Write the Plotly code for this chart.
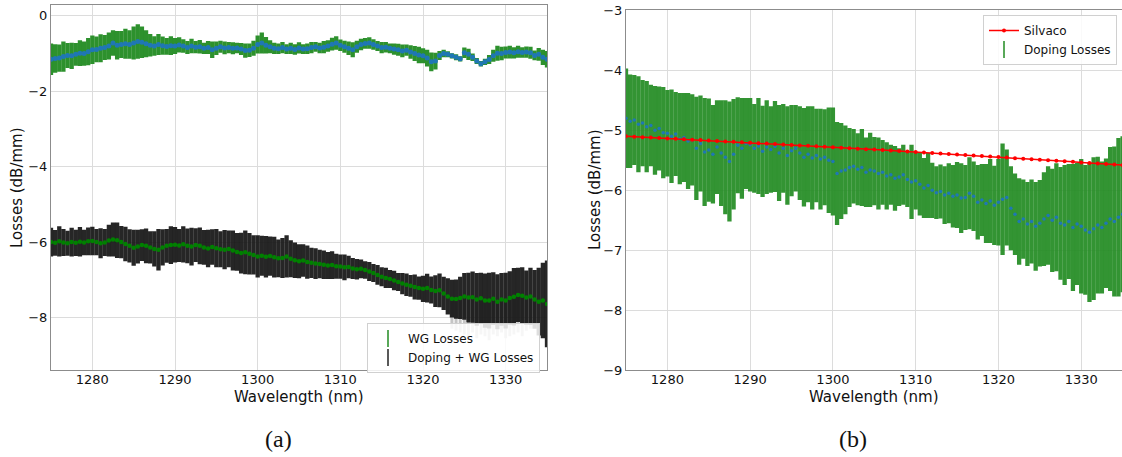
import numpy as np
import plotly.graph_objects as go

# ---------------- data ----------------
WL_START, WL_END = 1275.0, 1335.0   # wavelength span of the sampled points (nm)

# (a) WG Losses: centre values and symmetric error (dB/mm), every 0.5 nm
wg_loss = [
    -1.15, -1.13, -1.12, -1.08, -1.05, -1.06, -1.02, -0.99, -1.00, -0.95,
    -0.90, -0.89, -0.86, -0.84, -0.80, -0.72, -0.78, -0.76, -0.74, -0.76,
    -0.72, -0.68, -0.70, -0.74, -0.78, -0.80, -0.76, -0.79, -0.81, -0.79,
    -0.80, -0.77, -0.80, -0.84, -0.80, -0.83, -0.82, -0.86, -0.84, -0.90,
    -0.86, -0.82, -0.85, -0.84, -0.86, -0.85, -0.88, -0.92, -0.91, -0.86,
    -0.76, -0.72, -0.78, -0.82, -0.86, -0.87, -0.84, -0.88, -0.86, -0.89,
    -0.85, -0.88, -0.87, -0.84, -0.82, -0.85, -0.83, -0.80, -0.75, -0.72,
    -0.78, -0.82, -0.86, -0.90, -0.82, -0.76, -0.73, -0.72, -0.76, -0.80,
    -0.84, -0.83, -0.86, -0.88, -0.90, -0.93, -0.91, -0.96, -1.00, -1.04,
    -1.06, -1.12, -1.22, -1.20, -1.05, -1.00, -1.02, -1.06, -1.10, -1.14,
    -0.98, -1.02, -1.10, -1.20, -1.27, -1.22, -1.16, -1.06, -0.99, -1.00,
    -0.97, -0.96, -0.98, -0.95, -0.97, -0.96, -0.98, -1.05, -1.02, -1.10,
    -1.15,
]
wg_err = [
    0.42, 0.38, 0.36, 0.40, 0.33, 0.35, 0.30, 0.34, 0.32, 0.36,
    0.38, 0.34, 0.37, 0.33, 0.36, 0.34, 0.38, 0.36, 0.40, 0.38,
    0.44, 0.46, 0.42, 0.36, 0.30, 0.26, 0.28, 0.24, 0.22, 0.25,
    0.21, 0.20, 0.18, 0.17, 0.19, 0.16, 0.18, 0.15, 0.17, 0.22,
    0.18, 0.16, 0.17, 0.15, 0.16, 0.14, 0.16, 0.19, 0.18, 0.20,
    0.24, 0.28, 0.22, 0.17, 0.15, 0.14, 0.15, 0.13, 0.15, 0.14,
    0.15, 0.13, 0.14, 0.15, 0.13, 0.14, 0.16, 0.15, 0.17, 0.18,
    0.15, 0.16, 0.18, 0.20, 0.16, 0.15, 0.14, 0.15, 0.14, 0.13,
    0.15, 0.14, 0.13, 0.15, 0.16, 0.17, 0.15, 0.18, 0.20, 0.22,
    0.20, 0.22, 0.25, 0.22, 0.12, 0.10, 0.08, 0.07, 0.08, 0.07,
    0.14, 0.15, 0.10, 0.08, 0.07, 0.08, 0.12, 0.16, 0.20, 0.18,
    0.16, 0.17, 0.15, 0.16, 0.14, 0.15, 0.16, 0.13, 0.17, 0.20,
    0.22,
]

# (a) Doping + WG Losses
dwg_loss = [
    -6.00, -6.02, -5.98, -6.01, -6.03, -6.00, -6.02, -5.99, -6.01, -5.98,
    -5.97, -6.00, -6.03, -6.01, -5.96, -5.93, -5.95, -6.00, -6.05, -6.10,
    -6.15, -6.12, -6.08, -6.10, -6.14, -6.18, -6.20, -6.14, -6.10, -6.08,
    -6.07, -6.09, -6.06, -6.10, -6.12, -6.08, -6.10, -6.14, -6.17, -6.13,
    -6.16, -6.19, -6.20, -6.18, -6.22, -6.26, -6.29, -6.27, -6.31, -6.34,
    -6.38, -6.36, -6.39, -6.37, -6.40, -6.43, -6.42, -6.38, -6.44, -6.48,
    -6.51, -6.49, -6.53, -6.55, -6.57, -6.58, -6.60, -6.62, -6.61, -6.64,
    -6.65, -6.67, -6.66, -6.70, -6.72, -6.71, -6.74, -6.78, -6.82, -6.87,
    -6.92, -6.95, -6.98, -7.02, -7.06, -7.10, -7.13, -7.16, -7.19, -7.22,
    -7.24, -7.22, -7.27, -7.30, -7.28, -7.36, -7.44, -7.50, -7.51, -7.48,
    -7.44, -7.47, -7.46, -7.52, -7.49, -7.55, -7.55, -7.50, -7.58, -7.52,
    -7.55, -7.48, -7.45, -7.40, -7.42, -7.47, -7.44, -7.52, -7.58, -7.55,
    -7.64,
]
dwg_err = [
    0.38, 0.34, 0.40, 0.36, 0.33, 0.38, 0.35, 0.39, 0.34, 0.37,
    0.38, 0.35, 0.40, 0.36, 0.42, 0.45, 0.47, 0.43, 0.46, 0.44,
    0.48, 0.45, 0.42, 0.46, 0.43, 0.47, 0.55, 0.48, 0.45, 0.50,
    0.47, 0.44, 0.48, 0.46, 0.50, 0.45, 0.49, 0.46, 0.50, 0.47,
    0.51, 0.48, 0.52, 0.49, 0.53, 0.50, 0.54, 0.58, 0.55, 0.52,
    0.56, 0.53, 0.55, 0.52, 0.54, 0.50, 0.53, 0.56, 0.49, 0.47,
    0.45, 0.43, 0.44, 0.40, 0.41, 0.38, 0.38, 0.36, 0.37, 0.33,
    0.32, 0.34, 0.30, 0.28, 0.27, 0.25, 0.23, 0.25, 0.24, 0.26,
    0.25, 0.27, 0.24, 0.26, 0.24, 0.28, 0.30, 0.29, 0.33, 0.31,
    0.35, 0.38, 0.36, 0.42, 0.45, 0.44, 0.48, 0.50, 0.52, 0.56,
    0.62, 0.66, 0.68, 0.70, 0.68, 0.72, 0.74, 0.70, 0.73, 0.70,
    0.74, 0.71, 0.76, 0.72, 0.75, 0.72, 0.76, 0.78, 0.90, 1.00,
    1.15,
]
# light-grey tails under the Doping + WG band (1323.5 .. 1333.5 nm)
gray_wl = [1323.5, 1324.0, 1324.5, 1325.0, 1325.5, 1326.0, 1326.5, 1327.0,
           1327.5, 1328.0, 1328.5, 1329.0, 1329.5, 1330.0, 1330.5, 1331.0,
           1331.5, 1332.0, 1332.5, 1333.0, 1333.5]
gray_low = [-8.30, -8.35, -8.40, -8.45, -8.50, -8.40, -8.55, -8.45,
            -8.50, -8.60, -8.45, -8.50, -8.40, -8.55, -8.50, -8.45,
            -8.40, -8.50, -8.35, -8.30, -8.25]

# (b) Doping Losses
dop_loss = [
    -4.80, -4.85, -4.83, -4.90, -4.88, -4.94, -4.92, -5.00, -4.97, -5.04,
    -5.05, -5.10, -5.06, -5.14, -5.12, -5.18, -5.16, -5.30, -5.22, -5.36,
    -5.33, -5.40, -5.28, -5.38, -5.45, -5.52, -5.40, -5.25, -5.30, -5.22,
    -5.24, -5.30, -5.26, -5.35, -5.28, -5.32, -5.27, -5.38, -5.30, -5.42,
    -5.34, -5.30, -5.38, -5.45, -5.40, -5.46, -5.42, -5.48, -5.45, -5.50,
    -5.52, -5.72, -5.68, -5.66, -5.62, -5.60, -5.65, -5.62, -5.70, -5.66,
    -5.68, -5.72, -5.70, -5.76, -5.74, -5.80, -5.78, -5.74, -5.82, -5.86,
    -5.84, -5.90, -5.96, -5.92, -6.00, -6.04, -6.02, -6.08, -6.05, -6.10,
    -6.08, -6.13, -6.12, -6.05, -6.10, -6.20, -6.16, -6.22, -6.18, -6.25,
    -6.20, -6.15, -6.12, -6.30, -6.40, -6.52, -6.48, -6.56, -6.52, -6.60,
    -6.55, -6.48, -6.42, -6.50, -6.45, -6.55, -6.58, -6.52, -6.62, -6.56,
    -6.60, -6.66, -6.70, -6.64, -6.58, -6.62, -6.55, -6.48, -6.52, -6.45,
    -6.40,
]
dop_err = [
    0.83, 0.78, 0.75, 0.80, 0.72, 0.76, 0.68, 0.74, 0.70, 0.76,
    0.72, 0.78, 0.70, 0.76, 0.74, 0.80, 0.76, 0.86, 0.80, 0.90,
    0.86, 0.82, 0.78, 0.88, 0.95, 1.00, 0.92, 0.80, 0.84, 0.76,
    0.78, 0.74, 0.80, 0.76, 0.78, 0.72, 0.76, 0.80, 0.74, 0.82,
    0.76, 0.72, 0.78, 0.82, 0.80, 0.86, 0.78, 0.84, 0.80, 0.88,
    0.90, 0.86, 0.80, 0.74, 0.66, 0.62, 0.60, 0.64, 0.58, 0.62,
    0.57, 0.60, 0.54, 0.56, 0.50, 0.54, 0.48, 0.50, 0.46, 0.62,
    0.48, 0.52, 0.50, 0.54, 0.46, 0.44, 0.45, 0.48, 0.50, 0.52,
    0.55, 0.58, 0.54, 0.60, 0.58, 0.62, 0.60, 0.66, 0.70, 0.66,
    0.72, 0.93, 0.80, 0.70, 0.68, 0.72, 0.66, 0.70, 0.70, 0.74,
    0.72, 0.78, 0.82, 0.86, 0.90, 0.94, 1.00, 0.96, 1.06, 1.02,
    1.12, 1.08, 1.16, 1.19, 1.14, 1.10, 1.08, 1.20, 1.25, 1.32,
    1.30,
]

# (b) Silvaco simulation, every 1 nm
silvaco_wl = list(range(1275, 1336))
silvaco_loss = [
    -5.100, -5.107, -5.114, -5.121, -5.128, -5.135, -5.142, -5.149, -5.156, -5.163,
    -5.170, -5.177, -5.185, -5.192, -5.199, -5.207, -5.214, -5.222, -5.229, -5.237,
    -5.244, -5.252, -5.259, -5.267, -5.275, -5.283, -5.290, -5.298, -5.306, -5.314,
    -5.322, -5.330, -5.338, -5.346, -5.354, -5.362, -5.371, -5.379, -5.387, -5.396,
    -5.404, -5.412, -5.421, -5.429, -5.438, -5.447, -5.455, -5.464, -5.473, -5.481,
    -5.490, -5.499, -5.508, -5.517, -5.526, -5.535, -5.544, -5.554, -5.563, -5.572,
    -5.581,
]

x_ticks = [1280, 1290, 1300, 1310, 1320, 1330]

# ---------------- figure ----------------
W, H = 1122, 457
FONT = "DejaVu Sans"
GREEN_BAR = "rgba(34,139,34,0.95)"
BLUE = "#1f77b4"

def grid_wl(vals):
    return np.linspace(WL_START, WL_END, len(vals))

fig = go.Figure()

# --- panel (a) ---
wl_a = grid_wl(dwg_loss)
gray_top = np.interp(gray_wl, wl_a, dwg_loss)
fig.add_trace(go.Scatter(
    x=gray_wl, y=gray_low, mode="markers", marker=dict(size=0.1, opacity=0),
    error_y=dict(type="data", symmetric=False,
                 array=list(gray_top - np.array(gray_low)), arrayminus=[0] * len(gray_wl),
                 color="rgba(190,190,190,0.9)", thickness=3, width=0),
    showlegend=False, hoverinfo="skip", xaxis="x", yaxis="y"))

fig.add_trace(go.Scatter(
    x=grid_wl(wg_loss), y=wg_loss, mode="markers",
    marker=dict(color=BLUE, size=5),
    error_y=dict(type="data", array=wg_err, color=GREEN_BAR, thickness=4.3, width=0),
    showlegend=False, xaxis="x", yaxis="y"))

fig.add_trace(go.Scatter(
    x=wl_a, y=dwg_loss, mode="markers",
    marker=dict(color="#008000", size=4.5),
    error_y=dict(type="data", array=dwg_err, color="rgba(20,20,20,0.92)", thickness=4.3, width=0),
    showlegend=False, xaxis="x", yaxis="y"))

# legend entries for (a)
fig.add_trace(go.Scatter(
    x=[None], y=[None], mode="markers", name="WG Losses",
    marker=dict(symbol="line-ns", size=12, color="#228b22", line=dict(color="#228b22", width=1.5)),
    xaxis="x", yaxis="y", legend="legend"))
fig.add_trace(go.Scatter(
    x=[None], y=[None], mode="markers", name="Doping + WG Losses",
    marker=dict(symbol="line-ns", size=12, color="#222", line=dict(color="#222", width=1.5)),
    xaxis="x", yaxis="y", legend="legend"))

# --- panel (b) ---
fig.add_trace(go.Scatter(
    x=grid_wl(dop_loss), y=dop_loss, mode="markers",
    marker=dict(color=BLUE, size=3.5),
    error_y=dict(type="data", array=dop_err, color="rgba(34,139,34,0.92)", thickness=4.3, width=0),
    showlegend=False, xaxis="x2", yaxis="y2"))

fig.add_trace(go.Scatter(
    x=silvaco_wl, y=silvaco_loss, mode="lines+markers", name="Silvaco",
    line=dict(color="red", width=1.5), marker=dict(color="red", size=4),
    xaxis="x2", yaxis="y2", legend="legend2"))
fig.add_trace(go.Scatter(
    x=[None], y=[None], mode="markers", name="Doping Losses",
    marker=dict(symbol="line-ns", size=12, color="#228b22", line=dict(color="#228b22", width=1.5)),
    xaxis="x2", yaxis="y2", legend="legend2"))

# ---------------- layout ----------------
def px_x(p):
    return p / W

def px_y(p):
    return (H - p) / H

axis_common = dict(showgrid=True, gridcolor="#dcdcdc", gridwidth=1, zeroline=False,
                   showline=True, linecolor="#8c8c8c", linewidth=1.2, ticks="",
                   automargin=False,
                   tickfont=dict(family=FONT, size=13, color="#111"))

fig.update_layout(
    width=W, height=H, margin=dict(l=0, r=0, t=0, b=0, pad=0, autoexpand=False),
    paper_bgcolor="white", plot_bgcolor="white",
    font=dict(family=FONT, size=13, color="#111"),
    xaxis=dict(domain=[px_x(51), px_x(547)], range=[1275, 1335], tickvals=x_ticks,
               anchor="y", mirror=True, ticklabelstandoff=-3, **axis_common),
    yaxis=dict(domain=[px_y(370.3), px_y(5.3)], range=[-9.40, 0.28], dtick=2, tick0=0,
               anchor="x", mirror=True, **axis_common),
    xaxis2=dict(domain=[px_x(626), 1.0], range=[1275, 1334.93], tickvals=x_ticks,
                anchor="y2", mirror=True, ticklabelstandoff=-3, **axis_common),
    yaxis2=dict(domain=[px_y(370.3), px_y(10.3)], range=[-9, -3], dtick=1,
                anchor="x2", mirror=False, **axis_common),
    legend=dict(x=px_x(367), y=px_y(323), xanchor="left", yanchor="top",
                bgcolor="rgba(255,255,255,0.85)", bordercolor="#d0d0d0", borderwidth=1,
                font=dict(family=FONT, size=12, color="#111"), itemwidth=30),
    legend2=dict(x=px_x(983), y=px_y(15), xanchor="left", yanchor="top",
                 bgcolor="rgba(255,255,255,0.85)", bordercolor="#d0d0d0", borderwidth=1,
                 font=dict(family=FONT, size=12, color="#111"), itemwidth=30),
    showlegend=True,
)

ann_font = dict(family=FONT, size=15, color="#111")
annotations = [
    dict(text="Wavelength (nm)", x=px_x(299), y=px_y(397), xref="paper", yref="paper",
         showarrow=False, font=ann_font, xanchor="center", yanchor="middle"),
    dict(text="Wavelength (nm)", x=px_x(874), y=px_y(397), xref="paper", yref="paper",
         showarrow=False, font=ann_font, xanchor="center", yanchor="middle"),
    dict(text="Losses (dB/mm)", x=px_x(17), y=px_y(188), xref="paper", yref="paper",
         showarrow=False, font=ann_font, textangle=-90, xanchor="center", yanchor="middle"),
    dict(text="Losses (dB/mm)", x=px_x(595), y=px_y(190), xref="paper", yref="paper",
         showarrow=False, font=ann_font, textangle=-90, xanchor="center", yanchor="middle"),
    dict(text="(a)", x=px_x(278.6), y=px_y(439), xref="paper", yref="paper",
         showarrow=False, font=dict(family="Liberation Serif", size=24, color="#111"),
         xanchor="center", yanchor="middle"),
    dict(text="(b)", x=px_x(853), y=px_y(439), xref="paper", yref="paper",
         showarrow=False, font=dict(family="Liberation Serif", size=24, color="#111"),
         xanchor="center", yanchor="middle"),
]
fig.update_layout(annotations=annotations)

fig.write_html("out.html")
